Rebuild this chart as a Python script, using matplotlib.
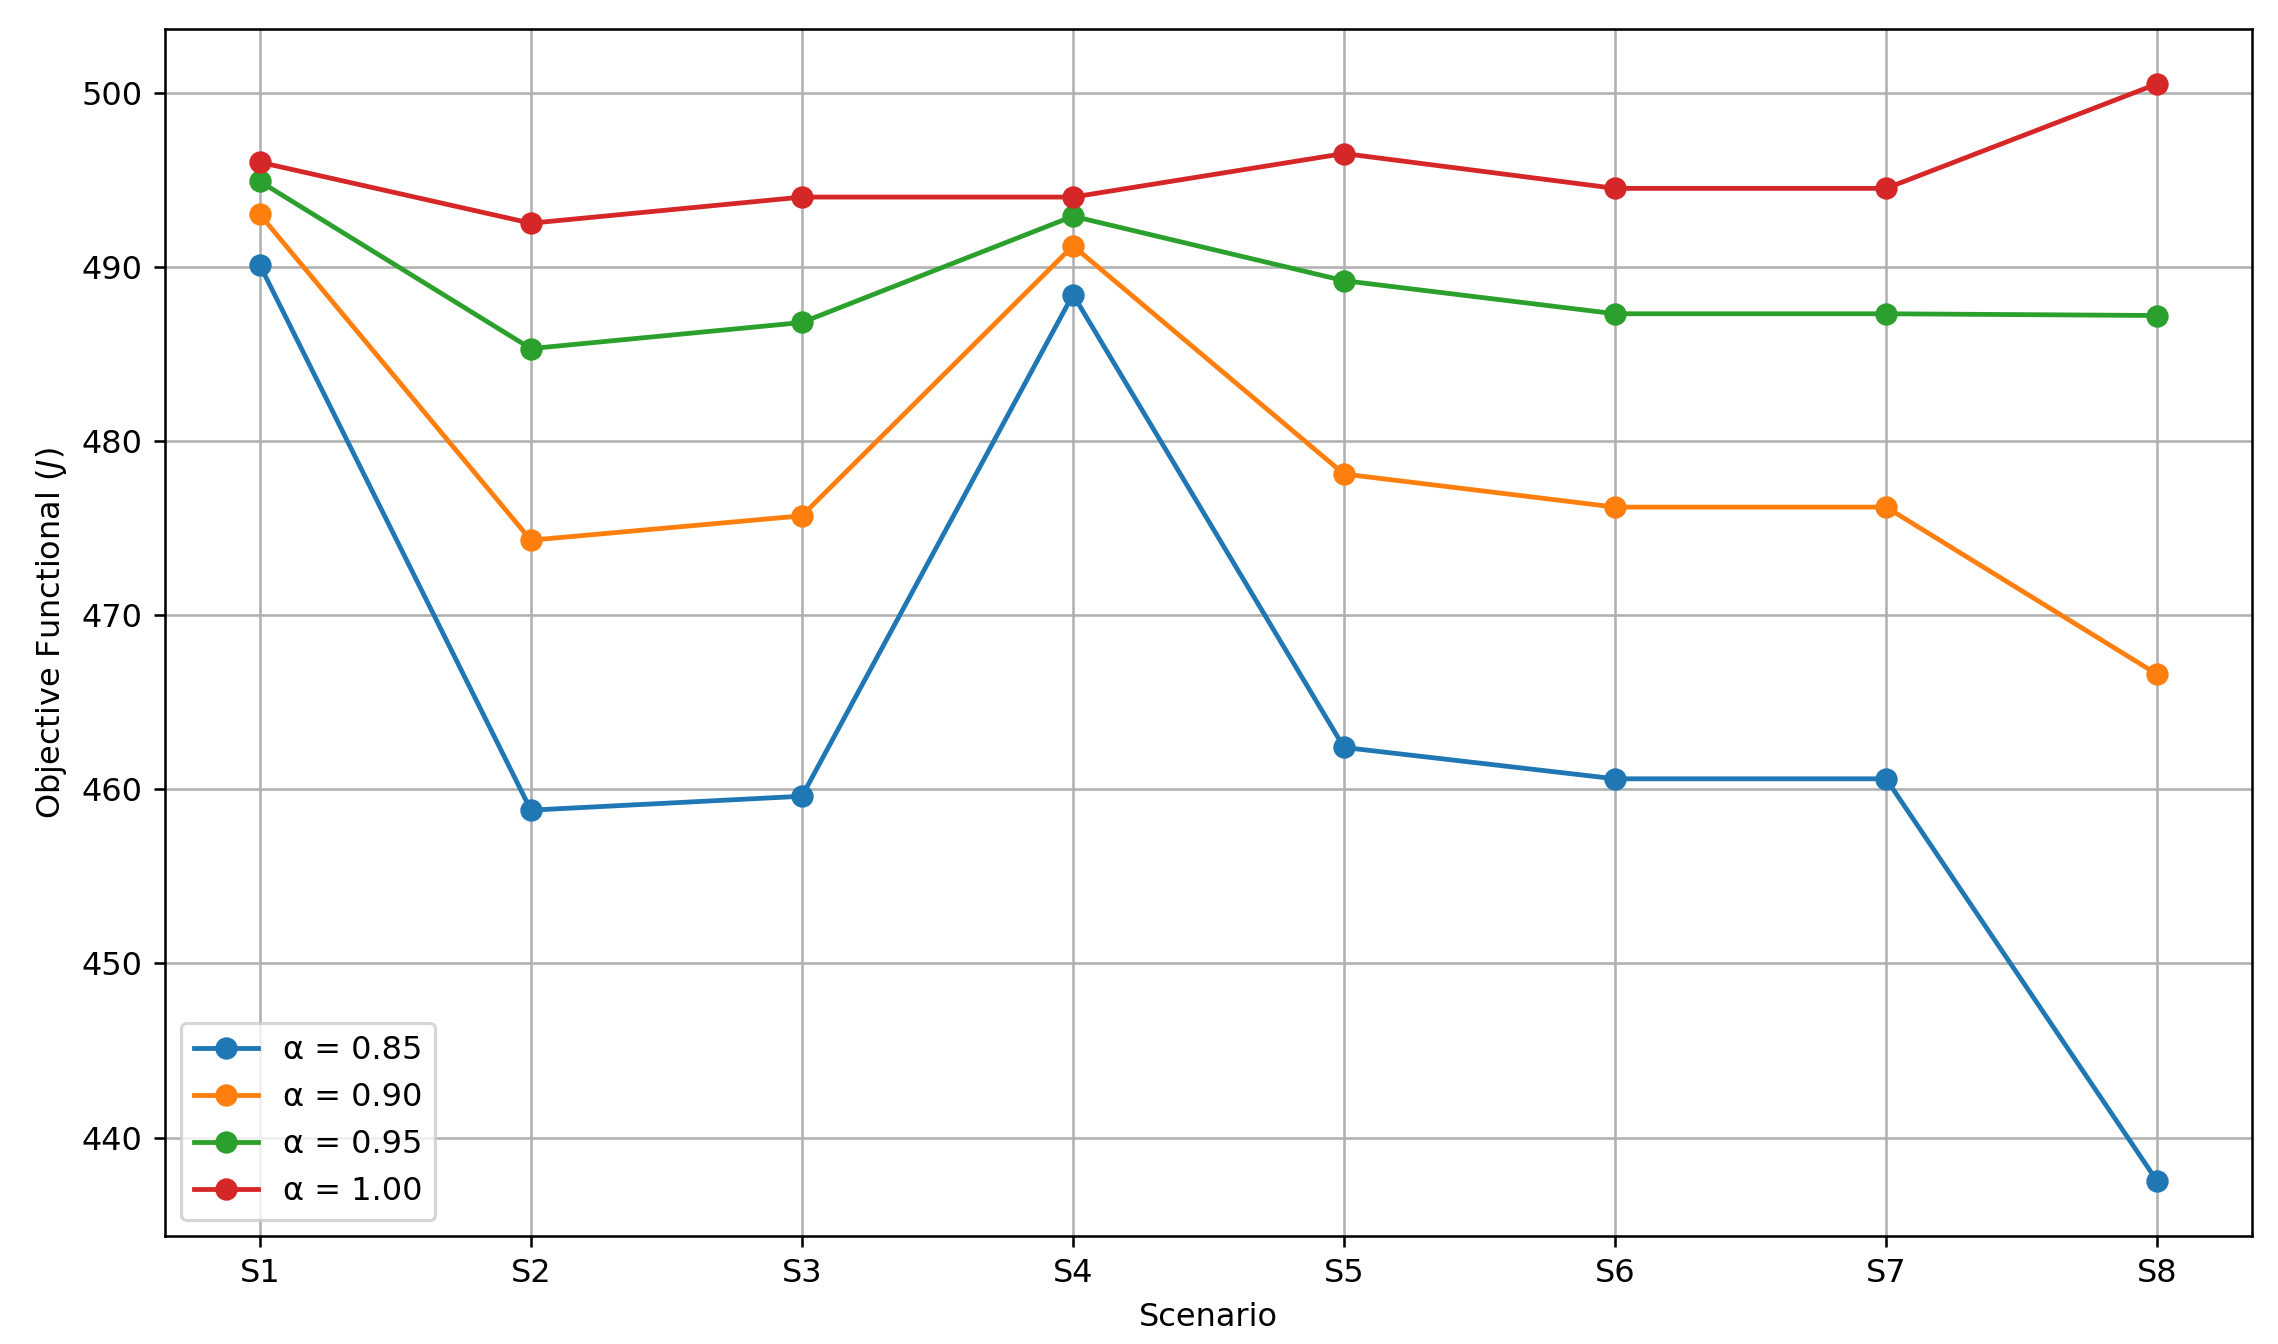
import matplotlib
matplotlib.use("Agg")
import matplotlib.pyplot as plt

scenarios = ["S1", "S2", "S3", "S4", "S5", "S6", "S7", "S8"]
alpha_labels = ["α = 0.85", "α = 0.90", "α = 0.95", "α = 1.00"]
j_085 = [490.1, 458.8, 459.6, 488.4, 462.4, 460.6, 460.6, 437.5]
j_090 = [493.0, 474.3, 475.7, 491.2, 478.1, 476.2, 476.2, 466.6]
j_095 = [494.9, 485.3, 486.8, 492.9, 489.2, 487.3, 487.3, 487.2]
j_100 = [496.0, 492.5, 494.0, 494.0, 496.5, 494.5, 494.5, 500.5]
series = [j_085, j_090, j_095, j_100]

DPI = 230
W, H = 2278, 1344
fig = plt.figure(figsize=(W / DPI, H / DPI), dpi=DPI)
left, right, top, bottom = 165, 2252, 29, 1236
ax = fig.add_axes([left / W, 1 - bottom / H, (right - left) / W, (bottom - top) / H])

for vals, lab in zip(series, alpha_labels):
    ax.plot(scenarios, vals, marker="o", label=lab)

ax.set_xlabel("Scenario")
ax.set_ylabel("Objective Functional ($J$)")
ax.grid(True)
ax.legend(loc="lower left")

fig.savefig("out.png", dpi=DPI)
